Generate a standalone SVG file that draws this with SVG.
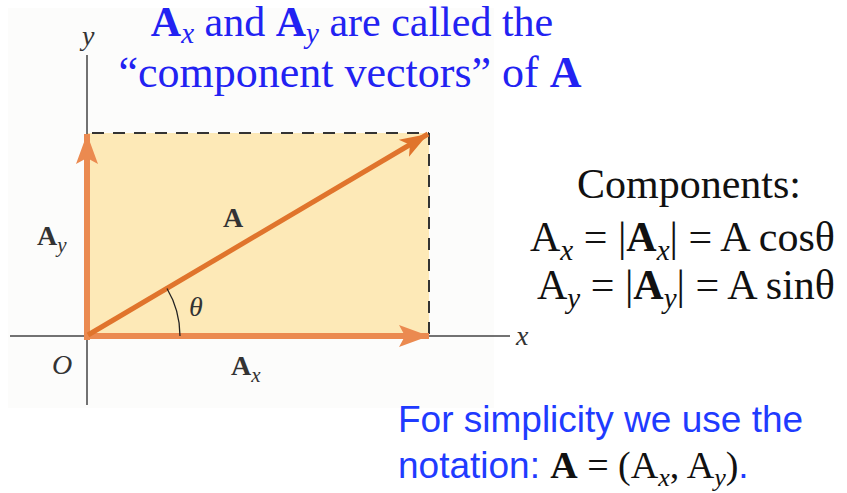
<svg xmlns="http://www.w3.org/2000/svg" width="847" height="493" viewBox="0 0 847 493">
<style>
.serif{font-family:"Liberation Serif","Times New Roman",serif}
.sans{font-family:"Liberation Sans",Arial,sans-serif}
.title{font-family:"Liberation Serif","Times New Roman",serif;fill:#2222f2}
.axis{stroke:#444;stroke-width:1.5;fill:none}
.dash{stroke:#333;stroke-width:2;stroke-dasharray:12,9;fill:none}
.lbl{font-family:"Liberation Serif","Times New Roman",serif;font-size:28px;fill:#333}
</style>
<defs>
<marker id="headA" markerUnits="userSpaceOnUse" markerWidth="30" markerHeight="24" refX="28" refY="12" orient="auto">
<path d="M0,2 L28,12 L0,22 L7,12 Z" fill="#e0742c"/>
</marker>
<marker id="headC" markerUnits="userSpaceOnUse" markerWidth="32" markerHeight="24" refX="30" refY="12" orient="auto">
<path d="M0,1 L30,12 L0,23 L6,12 Z" fill="#eb8a50"/>
</marker>
</defs>
<rect width="847" height="493" fill="#ffffff"/>
<rect x="8" y="8" width="486" height="400" fill="#fcfcfb"/>
<g id="rect-area">
<rect x="87" y="133" width="342" height="203" fill="#fde9b7"/>
</g>
<g id="axes">
<line class="axis" x1="87" y1="55" x2="87" y2="405"/>
<line class="axis" x1="10" y1="336" x2="510" y2="336"/>
<text class="lbl" x="82" y="45" font-style="italic">y</text>
<text class="lbl" x="516" y="345" font-style="italic">x</text>
<text class="lbl" x="52" y="374" font-style="italic">O</text>
</g>
<g id="connectors">
<line class="dash" x1="92" y1="133" x2="429" y2="133"/>
<line class="dash" x1="429" y1="133" x2="429" y2="336"/>
<line x1="87" y1="340" x2="87" y2="134" stroke="#eb8a50" stroke-width="6" marker-end="url(#headC)"/>
<line x1="84" y1="336" x2="429" y2="336" stroke="#eb8a50" stroke-width="6" marker-end="url(#headC)"/>
<line x1="88" y1="335" x2="428" y2="134" stroke="#e0742c" stroke-width="5" marker-end="url(#headA)"/>
<path d="M180,336 A93,93 0 0 0 167,288.5" stroke="#222" stroke-width="1.3" fill="none"/>
</g>
<g id="labels">
<text class="lbl" x="223" y="227" font-weight="bold" font-size="29">A</text>
<text class="lbl" x="189" y="316" font-style="italic">θ</text>
<text class="lbl" x="37" y="245" font-weight="bold" font-size="29">A<tspan font-weight="normal" font-style="italic" font-size="21" dy="7">y</tspan></text>
<text class="lbl" x="231" y="375" font-weight="bold" font-size="29">A<tspan font-weight="normal" font-style="italic" font-size="21" dy="7">x</tspan></text>
</g>
<g id="title">
<text class="title" x="352" y="36" font-size="42" text-anchor="middle"><tspan font-weight="bold">A</tspan><tspan font-style="italic" font-size="29" dy="7">x</tspan><tspan dy="-7"> and </tspan><tspan font-weight="bold">A</tspan><tspan font-style="italic" font-size="29" dy="7">y</tspan><tspan dy="-7"> are called the</tspan></text>
<text class="title" x="350" y="87" font-size="44" text-anchor="middle">“component vectors” of <tspan font-weight="bold">A</tspan></text>
</g>
<g id="components">
<text class="serif" x="689" y="198" font-size="42" text-anchor="middle" fill="#111">Components:</text>
<text class="serif" x="530" y="251" font-size="42" fill="#111">A<tspan font-style="italic" font-size="29" dy="9">x</tspan><tspan dy="-9"> = |</tspan><tspan font-weight="bold">A</tspan><tspan font-style="italic" font-size="29" dy="9">x</tspan><tspan dy="-9">| = A cosθ</tspan></text>
<text class="serif" x="537" y="299" font-size="42" fill="#111">A<tspan font-style="italic" font-size="29" dy="9">y</tspan><tspan dy="-9"> = |</tspan><tspan font-weight="bold">A</tspan><tspan font-style="italic" font-size="29" dy="9">y</tspan><tspan dy="-9">| = A sinθ</tspan></text>
</g>
<g id="notation">
<text class="sans" x="398" y="432" font-size="37" fill="#1f3bff">For simplicity we use the</text>
<text class="sans" x="398" y="478" font-size="37" fill="#1f3bff">notation: <tspan class="serif" font-weight="bold" fill="#111" font-size="38">A</tspan><tspan class="serif" fill="#111" font-size="38"> = (A</tspan><tspan class="serif" fill="#111" font-style="italic" font-size="26" dy="8">x</tspan><tspan class="serif" fill="#111" font-size="38" dy="-8">, A</tspan><tspan class="serif" fill="#111" font-style="italic" font-size="26" dy="8">y</tspan><tspan class="serif" fill="#111" font-size="38" dy="-8">)</tspan>.</text>
</g>
</svg>
